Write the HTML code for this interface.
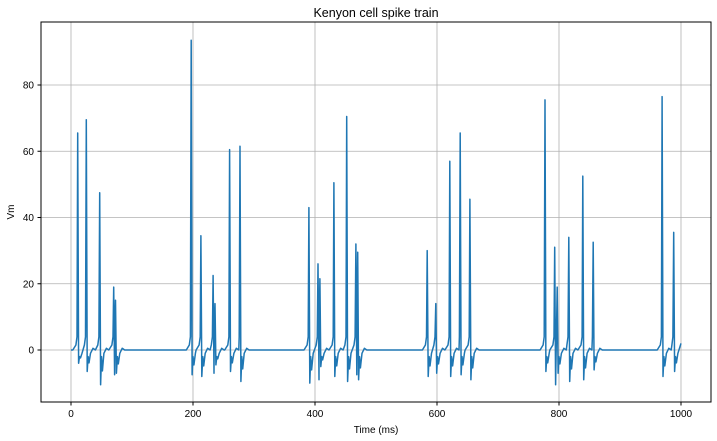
<!DOCTYPE html>
<html><head><meta charset="utf-8">
<style>
body{margin:0;background:#fff;}
svg{display:block;font-family:"Liberation Sans",sans-serif;}
</style></head>
<body>
<svg id="chart" width="717" height="441" viewBox="0 0 717 441">
  <text x="376" y="17" text-anchor="middle" font-size="12.5" fill="#000">Kenyon cell spike train</text>
  <g id="grid"></g>
  <g id="series"></g>
  <rect x="41" y="22" width="670" height="380" fill="none" stroke="#000" stroke-width="1"/>
  <g id="axes"></g>
  <text x="376" y="433" text-anchor="middle" font-size="10" fill="#000">Time (ms)</text>
  <text transform="translate(14,212) rotate(-90)" text-anchor="middle" font-size="10" fill="#000">Vm</text>
</svg>
<script>
const xTicks = [0, 200, 400, 600, 800, 1000];
const yTicks = [0, 20, 40, 60, 80];
const spikeTimes = [11, 25, 47, 70, 73, 197, 213, 233, 236, 260, 277, 390, 405, 408, 431, 452, 467, 470, 584, 598, 621, 638, 654, 777, 793, 797, 816, 839, 856, 969, 988];
const spikePeaks = [65.5, 69.5, 47.5, 19, 15, 93.5, 34.5, 22.5, 14, 60.5, 61.5, 43, 26, 21.5, 50.5, 70.5, 32, 29.5, 30, 14, 57, 65.5, 45.5, 75.5, 31, 19, 34, 52.5, 32.5, 76.5, 35.5];
const spikeTroughs = [-4, -6.5, -10.5, -7.5, -7, -7.5, -8, -7, -4.5, -6.5, -9.5, -10, -9, -5, -8, -9.5, -7.5, -9, -8, -7, -8, -7.5, -9, -6.5, -10.5, -7, -9.5, -9, -6, -8, -6.5];

const X0 = 71, XS = 0.61, Y0 = 350, YS = 3.3125;
const xp = t => X0 + t * XS;
const yp = v => Y0 - v * YS;
const NS = "http://www.w3.org/2000/svg";
const grid = document.getElementById('grid');
const axes = document.getElementById('axes');

xTicks.forEach(t => {
  const l = document.createElementNS(NS, 'line');
  l.setAttribute('x1', xp(t)); l.setAttribute('x2', xp(t));
  l.setAttribute('y1', 22); l.setAttribute('y2', 402);
  l.setAttribute('stroke', '#b0b0b0'); l.setAttribute('stroke-width', '0.8');
  
  
  grid.appendChild(l);
  const k = document.createElementNS(NS, 'line');
  k.setAttribute('x1', xp(t)); k.setAttribute('x2', xp(t));
  k.setAttribute('y1', 402); k.setAttribute('y2', 405.5);
  k.setAttribute('stroke', '#000');
  
  
  axes.appendChild(k);
  const tx = document.createElementNS(NS, 'text');
  tx.setAttribute('x', xp(t)); tx.setAttribute('y', 417);
  tx.setAttribute('text-anchor', 'middle'); tx.setAttribute('font-size', '10');
  tx.textContent = t;
  
  
  axes.appendChild(tx);
});
yTicks.forEach(v => {
  const l = document.createElementNS(NS, 'line');
  l.setAttribute('x1', 41); l.setAttribute('x2', 711);
  l.setAttribute('y1', yp(v)); l.setAttribute('y2', yp(v));
  l.setAttribute('stroke', '#b0b0b0'); l.setAttribute('stroke-width', '0.8');
  
  
  grid.appendChild(l);
  const k = document.createElementNS(NS, 'line');
  k.setAttribute('x1', 37.5); k.setAttribute('x2', 41);
  k.setAttribute('y1', yp(v)); k.setAttribute('y2', yp(v));
  k.setAttribute('stroke', '#000');
  
  
  axes.appendChild(k);
  const tx = document.createElementNS(NS, 'text');
  tx.setAttribute('x', 34); tx.setAttribute('y', yp(v) + 3.5);
  tx.setAttribute('text-anchor', 'end'); tx.setAttribute('font-size', '10');
  tx.textContent = v;
  
  
  axes.appendChild(tx);
});

// build trace from spike arrays
const pts = [[0, 0]];
for (let i = 0; i < spikeTimes.length; i++) {
  const t = spikeTimes[i], p = spikePeaks[i], tr = spikeTroughs[i];
  const prev = pts[pts.length - 1][0];
  if (t - 8 > prev) pts.push([t - 8, 0]);
  if (t - 3 > prev) pts.push([t - 3, 1.5]);
  pts.push([t - 1.2, 4]);
  pts.push([t, p]);
  pts.push([t + 1.5, tr]);
  const next = i + 1 < spikeTimes.length ? spikeTimes[i + 1] : 1000;
  if (next - t > 6) { pts.push([t + 3, -2]); pts.push([t + 4.5, tr * 0.6]); }
  if (next - t > 10) { pts.push([t + 7, -1]); }
  if (next - t > 16) { pts.push([t + 11, 0.5]); pts.push([t + 15, 0]); }
}
pts.push([1000, 2]);
const path = document.createElementNS(NS, 'polyline');
path.setAttribute('points', pts.map(q => xp(q[0]).toFixed(1) + ',' + yp(q[1]).toFixed(1)).join(' '));
path.setAttribute('fill', 'none');
path.setAttribute('stroke', '#1f77b4');
path.setAttribute('stroke-width', '1.5');
path.setAttribute('stroke-linejoin', 'round');


document.getElementById('series').appendChild(path);
</script>
</body></html>
